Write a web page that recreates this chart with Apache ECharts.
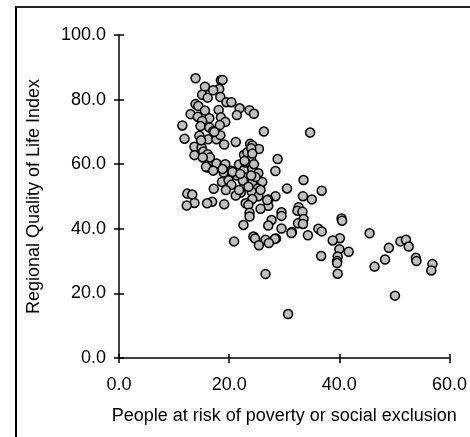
<!DOCTYPE html>
<html>
<head>
<meta charset="utf-8">
<script src="https://cdn.jsdelivr.net/npm/echarts/dist/echarts.min.js"></script>
<style>
html,body{margin:0;padding:0;background:#fff;}
#chart{width:470px;height:437px;}
</style>
</head>
<body>
<div id="chart"></div>
<script>
var xTicks = [0, 20, 40, 60];
var yTicks = [0, 20, 40, 60, 80, 100];
var xTitle = 'People at risk of poverty or social exclusion';
var yTitle = 'Regional Quality of Life Index';

var povertyRisk = [
  13.9, 18.5, 18.8, 15.6, 18.2, 17.1, 15.1, 16.1, 18.4, 19.5, 20.4, 13.9, 14.4, 21.9, 23.7, 24.5,
  18.1, 15.6, 13.0, 14.3, 16.4, 18.5, 21.4, 19.3, 15.1, 14.8, 11.5, 16.4, 18.3, 17.1, 26.3, 34.7,
  14.6, 11.9, 16.2, 17.7, 18.4, 21.2, 19.1, 23.8, 24.2, 13.7, 15.0, 25.4, 15.3, 13.7, 16.1, 16.5,
  22.7, 24.0, 28.8, 23.3, 17.7, 16.0, 19.1, 21.8, 22.7, 24.2, 20.4, 19.0, 25.3, 28.4, 21.4, 23.0,
  33.5, 26.0, 24.2, 22.5, 18.7, 19.9, 20.4, 19.4, 17.2, 30.5, 36.8, 25.2, 24.1, 22.1, 21.2, 25.3,
  33.4, 28.4, 12.4, 13.3, 35.0, 27.1, 24.2, 23.0, 23.5, 16.9, 16.0, 13.7, 12.3, 19.1, 27.1, 25.7,
  32.6, 32.4, 33.3, 29.5, 23.7, 29.5, 23.7, 33.5, 40.4, 40.5, 27.7, 32.5, 33.4, 27.1, 22.6, 29.5,
  36.2, 36.8, 31.4, 31.3, 45.5, 34.3, 24.4, 24.7, 28.5, 28.3, 40.1, 26.6, 20.9, 38.8, 51.1, 52.1,
  49.0, 52.6, 40.0, 27.2, 25.4, 41.7, 36.7, 39.7, 53.9, 54.0, 39.6, 39.6, 48.3, 56.9, 46.4, 56.7,
  26.6, 39.7, 50.1, 30.7,
  17.3, 14.9, 24.0, 24.2, 15.2, 20.6, 15.8, 17.1, 21.8, 25.7, 26.9, 23.0, 24.5, 22.0, 23.5, 24.8,
  19.3, 18.8, 22.8, 24.0
];
var qualityOfLife = [
  86.6, 86.0, 86.1, 84.0, 83.3, 82.9, 81.5, 80.6, 80.8, 79.2, 79.2, 78.6, 78.0, 77.3, 76.7, 75.6,
  76.8, 76.6, 75.5, 74.7, 74.2, 74.5, 75.2, 73.1, 73.4, 71.8, 72.0, 71.4, 72.1, 70.2, 70.1, 69.8,
  68.8, 67.9, 67.7, 67.7, 69.0, 66.9, 66.1, 66.3, 65.8, 65.4, 65.2, 64.7, 63.9, 62.8, 63.1, 62.1,
  62.9, 61.5, 61.6, 63.7, 60.2, 59.0, 59.5, 59.9, 58.2, 58.7, 58.0, 57.4, 57.2, 57.9, 56.5, 55.9,
  55.1, 54.5, 54.4, 54.9, 54.5, 55.0, 53.6, 52.0, 52.4, 52.5, 51.8, 52.5, 51.5, 51.2, 50.3, 50.1,
  50.1, 50.1, 50.9, 50.6, 49.1, 49.1, 49.2, 47.9, 47.4, 48.4, 47.9, 48.0, 47.2, 47.6, 47.1, 46.2,
  46.7, 45.6, 45.3, 45.1, 45.0, 44.0, 43.8, 43.0, 43.2, 42.5, 42.7, 41.7, 41.5, 41.0, 41.2, 40.1,
  40.0, 39.2, 39.0, 38.7, 38.6, 38.0, 37.6, 37.0, 37.0, 36.9, 37.1, 36.6, 36.1, 36.4, 36.1, 36.6,
  34.1, 34.5, 33.7, 35.6, 34.9, 32.9, 31.6, 31.4, 31.0, 30.0, 30.0, 29.4, 30.5, 29.1, 28.3, 27.1,
  26.0, 26.1, 19.3, 13.6,
  70.0, 67.4, 64.9, 63.3, 62.1, 57.6, 59.2, 58.0, 52.0, 52.0, 48.9, 60.5, 60.0, 57.0, 53.0, 56.0,
  60.0, 58.5, 61.0, 56.5
];

var points = povertyRisk.map(function (v, i) { return [v, qualityOfLife[i]]; });

var font = 'Liberation Sans, Arial, Helvetica, sans-serif';
var fmt = function (v) { return Number(v).toFixed(1); };
var axisLine = { show: true, lineStyle: { color: '#000', width: 1.5 } };

var chart = echarts.init(document.getElementById('chart'), null, { renderer: 'canvas' });
chart.setOption({
  animation: false,
  backgroundColor: '#fff',
  grid: { left: 119, right: 18, top: 35, bottom: 79, containLabel: false },
  graphic: [
    { type: 'line', shape: { x1: 16, y1: 6, x2: 16, y2: 437 }, style: { stroke: '#000', lineWidth: 2 } },
    { type: 'line', shape: { x1: 15, y1: 7, x2: 470, y2: 7 }, style: { stroke: '#222', lineWidth: 2 } }
  ],
  xAxis: [
    {
      type: 'value', min: xTicks[0], max: xTicks[xTicks.length - 1], interval: xTicks[1] - xTicks[0],
      position: 'bottom',
      name: xTitle, nameLocation: 'middle', nameGap: 49,
      nameTextStyle: { color: '#000', fontFamily: font, fontSize: 18 },
      axisLine: axisLine,
      axisTick: { show: true, inside: false, length: 5, lineStyle: { color: '#000', width: 1.5 } },
      axisLabel: { color: '#000', fontFamily: font, fontSize: 18, margin: 18, formatter: fmt },
      splitLine: { show: false }
    },
    {
      type: 'value', min: xTicks[0], max: xTicks[xTicks.length - 1], interval: xTicks[1] - xTicks[0],
      position: 'bottom', offset: 0,
      axisLine: { show: false },
      axisTick: { show: true, inside: true, length: 4, lineStyle: { color: '#000', width: 1.5 } },
      axisLabel: { show: false },
      splitLine: { show: false }
    }
  ],
  yAxis: [
    {
      type: 'value', min: yTicks[0], max: yTicks[yTicks.length - 1], interval: yTicks[1] - yTicks[0],
      position: 'left',
      name: yTitle, nameLocation: 'middle', nameGap: 76,
      nameTextStyle: { color: '#000', fontFamily: font, fontSize: 18 },
      axisLine: axisLine,
      axisTick: { show: true, inside: false, length: 5, lineStyle: { color: '#000', width: 1.5 } },
      axisLabel: { color: '#000', fontFamily: font, fontSize: 18, margin: 13, formatter: fmt },
      splitLine: { show: false }
    },
    {
      type: 'value', min: yTicks[0], max: yTicks[yTicks.length - 1], interval: yTicks[1] - yTicks[0],
      position: 'left', offset: 0,
      axisLine: { show: false },
      axisTick: { show: true, inside: true, length: 5, lineStyle: { color: '#000', width: 1.5 } },
      axisLabel: { show: false },
      splitLine: { show: false }
    }
  ],
  series: [{
    type: 'scatter',
    xAxisIndex: 0, yAxisIndex: 0,
    data: points,
    symbol: 'circle',
    symbolSize: 9,
    itemStyle: { color: '#c0c0c0', borderColor: '#000', borderWidth: 1.5, opacity: 1 }
  }]
});
</script>
</body>
</html>
